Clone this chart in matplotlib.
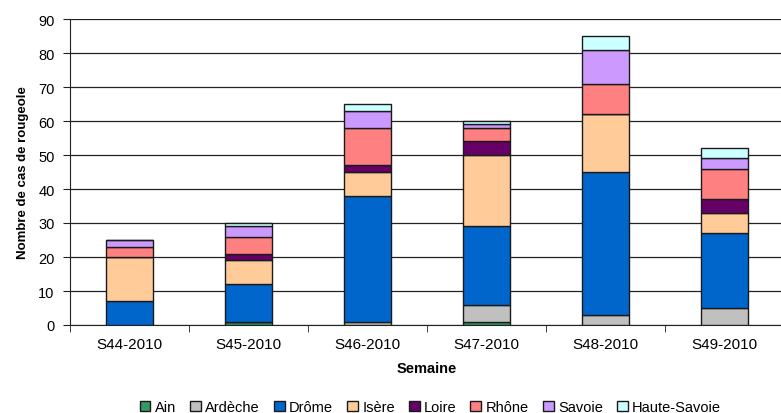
import matplotlib
matplotlib.use("Agg")
import matplotlib.pyplot as plt
import numpy as np

plt.rcParams['font.family'] = ['Liberation Sans', 'DejaVu Sans']

weeks = ["S44-2010", "S45-2010", "S46-2010", "S47-2010", "S48-2010", "S49-2010"]
departements = ["Ain", "Ardèche", "Drôme", "Isère", "Loire", "Rhône", "Savoie", "Haute-Savoie"]
ain = [0, 1, 0, 1, 0, 0]
ardeche = [0, 0, 1, 5, 3, 5]
drome = [7, 11, 37, 23, 42, 22]
isere = [13, 7, 7, 21, 17, 6]
loire = [0, 2, 2, 4, 0, 4]
rhone = [3, 5, 11, 4, 9, 9]
savoie = [2, 3, 5, 1, 10, 3]
haute_savoie = [0, 1, 2, 1, 4, 3]
series = [ain, ardeche, drome, isere, loire, rhone, savoie, haute_savoie]
colors = ["#339966", "#C0C0C0", "#0066CC", "#FFCC99", "#660066", "#FF8080", "#CC99FF", "#CCFFFF"]

fig = plt.figure(figsize=(7.81, 4.14), dpi=100)
ax = fig.add_axes([70/781, 88/414, 714/781, 306/414])

x = np.arange(len(weeks))
bottom = np.zeros(len(weeks))
for name, vals, c in zip(departements, series, colors):
    v = np.array(vals, dtype=float)
    ax.bar(x, v, width=0.4, bottom=bottom, color=c, edgecolor="#1a1a1a",
           linewidth=1.0, label=name, zorder=3)
    bottom += v

ax.set_xlim(-0.5, len(weeks) - 0.5)
ax.set_ylim(0, 90)
ax.set_yticks(range(0, 91, 10))
ax.yaxis.grid(True, color="#222222", linewidth=0.9, zorder=0)
ax.set_axisbelow(True)
for s in ["top", "right"]:
    ax.spines[s].set_visible(False)
ax.spines["left"].set_color("#222222")
ax.spines["bottom"].set_color("#222222")

ax.set_xticks(x)
ax.set_xticklabels(weeks, fontsize=11)
ax.set_xticks(np.arange(-0.5, len(weeks), 1.0), minor=True)
ax.tick_params(axis="x", which="major", length=0, pad=9)
ax.tick_params(axis="x", which="minor", length=5, color="#222222")
ax.tick_params(axis="y", length=5, color="#222222", labelsize=10.5, pad=6)

ax.set_ylabel("Nombre de cas de rougeole", fontsize=9.5, fontweight="bold", labelpad=7)
ax.set_xlabel("Semaine", fontsize=10.5, fontweight="bold", labelpad=7)

handles, labels = ax.get_legend_handles_labels()
fig.legend(handles, labels, loc="lower center", bbox_to_anchor=(0.551, -0.034), ncol=8,
           frameon=False, fontsize=10.5, handlelength=0.75, handleheight=0.75,
           handletextpad=0.3, columnspacing=0.95)

fig.savefig("out.png", dpi=100)
